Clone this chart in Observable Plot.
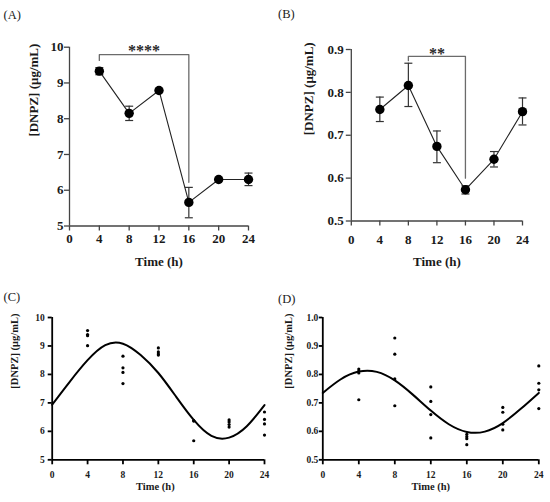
<!DOCTYPE html>
<html>
<head>
<meta charset="utf-8">
<script src="https://cdn.jsdelivr.net/npm/d3@7"></script>
<script src="https://cdn.jsdelivr.net/npm/@observablehq/plot@0.6"></script>
<style>
  html, body { margin: 0; padding: 0; background: #fff; }
  #wrap { position: relative; width: 550px; height: 502px; background: #fff; overflow: hidden; }
  #wrap svg { position: absolute; font-family: 'Liberation Serif', 'Times New Roman', serif; }
  .tag { position: absolute; font-family: 'Liberation Serif', 'Times New Roman', serif; font-size: 12.5px; line-height: 14px; color: #1a1a1a; }
</style>
</head>
<body>
<div id="wrap"></div>
<script>
// ---------- data ----------
const hours = [4, 8, 12, 16, 20, 24];
const xTicks = [0, 4, 8, 12, 16, 20, 24];

// Panel A (mean ± SEM)
const meanA = [9.33, 8.15, 8.79, 5.66, 6.30, 6.30];
const loA   = [9.23, 7.95, 8.77, 5.23, 6.29, 6.13];
const hiA   = [9.43, 8.35, 8.81, 6.08, 6.31, 6.48];
const ticksA = [5, 6, 7, 8, 9, 10];
const bracketA_t = [4, 4, 16, 16];
const bracketA_v = [9.63, 9.79, 9.79, 6.22];
const starsA = "****";

// Panel B (mean ± SEM)
const meanB = [0.760, 0.816, 0.674, 0.573, 0.644, 0.755];
const loB   = [0.732, 0.767, 0.636, 0.563, 0.626, 0.724];
const hiB   = [0.789, 0.868, 0.710, 0.582, 0.662, 0.787];
const ticksB = [0.5, 0.6, 0.7, 0.8, 0.9];
const bracketB_t = [8, 8, 16, 16];
const bracketB_v = [0.874, 0.884, 0.884, 0.600];
const starsB = "**";

// Panel C (individual values + cosinor fit)
const rawC_t = [4, 4, 4, 4, 8, 8, 8, 8, 12, 12, 12, 12, 16, 16, 16, 20, 20, 20, 20, 24, 24, 24, 24];
const rawC_v = [9.54, 9.40, 9.36, 9.01, 8.64, 8.23, 8.07, 7.68, 8.93, 8.79, 8.72, 8.68, 6.38, 6.36, 5.67, 6.40, 6.33, 6.24, 6.15, 6.68, 6.42, 6.26, 5.87];
const fitC_t = [0, 2, 4, 6, 8, 10, 12, 14, 16, 18, 20, 22, 24];
const fitC_v = [6.94, 7.75, 8.50, 9.03, 9.08, 8.68, 8.05, 7.22, 6.40, 5.84, 5.78, 6.18, 6.92];
const ticksC = [5, 6, 7, 8, 9, 10];

// Panel D (individual values + cosinor fit)
const rawD_t = [4, 4, 4, 4, 8, 8, 8, 8, 12, 12, 12, 12, 16, 16, 16, 16, 20, 20, 20, 20, 24, 24, 24, 24];
const rawD_v = [0.819, 0.812, 0.805, 0.711, 0.928, 0.871, 0.784, 0.690, 0.756, 0.705, 0.659, 0.577, 0.589, 0.581, 0.574, 0.553, 0.684, 0.667, 0.625, 0.605, 0.830, 0.769, 0.746, 0.680];
const fitD_t = [0, 2, 4, 6, 8, 10, 12, 14, 16, 18, 20, 22, 24];
const fitD_v = [0.735, 0.783, 0.810, 0.809, 0.779, 0.729, 0.673, 0.625, 0.598, 0.599, 0.629, 0.679, 0.735];
const ticksD = [0.5, 0.6, 0.7, 0.8, 0.9, 1.0];

const yLabel = "[DNPZ] (μg/mL)";
const xLabel = "Time (h)";

// ---------- helpers ----------
const zip2 = (t, v) => t.map((d, i) => ({t: d, v: v[i]}));
const summary = (m, lo, hi) => hours.map((t, i) => ({t, v: m[i], lo: lo[i], hi: hi[i]}));
const capSymbol = {draw(ctx, size) { const w = Math.sqrt(size / Math.PI); ctx.moveTo(-w, 0); ctx.lineTo(w, 0); }};
const FONT = "'Liberation Serif', 'Times New Roman', serif";

function panel(o) {
  const svg = Plot.plot({
    width: o.width, height: o.height,
    marginLeft: o.mL, marginRight: o.mR, marginTop: o.mT, marginBottom: o.mB,
    x: {domain: [0, 24]},
    y: {domain: o.yDomain},
    style: {fontFamily: FONT, fontWeight: "bold", color: "#1a1a1a", background: "transparent", overflow: "visible"},
    marks: [
      Plot.axisX(xTicks, {tickSize: o.tsX, tickPadding: o.tpX, label: null, fontSize: o.fs, fontWeight: "bold", fontFamily: FONT, fill: "#1a1a1a", stroke: o.axisColor, strokeWidth: o.axisW}),
      Plot.axisY(o.yTicks, {tickSize: o.tsY, tickPadding: o.tpY, label: null, fontSize: o.fs, fontWeight: "bold", fontFamily: FONT, fill: "#1a1a1a", tickFormat: o.yFmt, stroke: o.axisColor, strokeWidth: o.axisW}),
      Plot.ruleX([0], {stroke: o.axisColor, strokeWidth: o.axisW}),
      Plot.ruleY([o.yDomain[0]], {stroke: o.axisColor, strokeWidth: o.axisW}),
      Plot.text([xLabel], {text: d => d, frameAnchor: "bottom", dy: o.xlDy, dx: o.xlDx || 0, fontSize: o.xlFs, fontWeight: "bold", fontFamily: FONT, fill: "#1a1a1a"}),
      Plot.text([yLabel], {text: d => d, frameAnchor: "left", dx: o.ylDx, rotate: -90, fontSize: o.ylFs, fontWeight: "bold", fontFamily: FONT, fill: "#1a1a1a"}),
      ...o.marks
    ]
  });
  svg.style.left = o.left + "px";
  svg.style.top = o.top + "px";
  return svg;
}

function meanMarks(data, bracket, stars, starX, starDy) {
  return [
    Plot.line(bracket, {x: "t", y: "v", stroke: "#6b6b6b", strokeWidth: 1.3}),
    Plot.text([stars], {text: d => d, x: starX, frameAnchor: "top", dy: starDy, fontSize: 16, fontWeight: "bold", fontFamily: FONT, fill: "#2a2a2a"}),
    Plot.ruleX(data, {x: "t", y1: "lo", y2: "hi", stroke: "#333", strokeWidth: 1.2}),
    Plot.dot(data, {x: "t", y: "lo", symbol: capSymbol, r: 4, stroke: "#333", strokeWidth: 1.2, fill: "none"}),
    Plot.dot(data, {x: "t", y: "hi", symbol: capSymbol, r: 4, stroke: "#333", strokeWidth: 1.2, fill: "none"}),
    Plot.line(data, {x: "t", y: "v", stroke: "#222", strokeWidth: 1.1}),
    Plot.dot(data, {x: "t", y: "v", r: 4.7, fill: "#000", stroke: "none"})
  ];
}

function fitMarks(raw, fit) {
  return [
    Plot.line(fit, {x: "t", y: "v", curve: "natural", stroke: "#000", strokeWidth: 2}),
    Plot.dot(raw, {x: "t", y: "v", r: 1.6, fill: "#000", stroke: "none"})
  ];
}

const wrap = document.getElementById("wrap");
const fmt1 = d => d.toFixed(1);
const fmt0 = d => String(d);

wrap.appendChild(panel({
  left: 0, top: 0, width: 275, height: 280, mL: 69, mR: 27, mT: 46.7, mB: 54.5,
  yDomain: [5, 10], yTicks: ticksA, yFmt: fmt0, fs: 13,
  tsX: 5, tpX: 2.5, tsY: 5, tpY: 1, axisColor: "#444", axisW: 1.3,
  xlDy: 39.5, xlFs: 13, ylDx: -36, ylFs: 13,
  marks: meanMarks(summary(meanA, loA, hiA), zip2(bracketA_t, bracketA_v), starsA, 10, -2.3)
}));

wrap.appendChild(panel({
  left: 275, top: 0, width: 275, height: 280, mL: 75.8, mR: 28, mT: 49, mB: 59.5,
  yDomain: [0.5, 0.9], yTicks: ticksB, yFmt: fmt1, fs: 13,
  tsX: 5, tpX: 8.5, tsY: 5, tpY: 2.5, axisColor: "#444", axisW: 1.3,
  xlDy: 44.5, xlFs: 13, ylDx: -42.7, ylFs: 13,
  marks: meanMarks(summary(meanB, loB, hiB), zip2(bracketB_t, bracketB_v), starsB, 12, -1.6)
}));

wrap.appendChild(panel({
  left: 0, top: 280, width: 275, height: 222, mL: 51.7, mR: 11, mT: 37, mB: 42.7,
  yDomain: [5, 10], yTicks: ticksC, yFmt: fmt0, fs: 9.5,
  tsX: 5, tpX: 6, tsY: 4, tpY: 3.5, axisColor: "#000", axisW: 1.8,
  xlDy: 29.7, xlDx: -3, xlFs: 10.5, ylDx: -38, ylFs: 10.5,
  marks: fitMarks(zip2(rawC_t, rawC_v), zip2(fitC_t, fitC_v))
}));

wrap.appendChild(panel({
  left: 275, top: 280, width: 275, height: 222, mL: 47.3, mR: 11.7, mT: 37, mB: 42.7,
  yDomain: [0.5, 1.0], yTicks: ticksD, yFmt: fmt1, fs: 9.5,
  tsX: 5, tpX: 6, tsY: 3.5, tpY: 1, axisColor: "#000", axisW: 1.8,
  xlDy: 29.7, xlFs: 10.5, ylDx: -34, ylFs: 10.5,
  marks: fitMarks(zip2(rawD_t, rawD_v), zip2(fitD_t, fitD_v))
}));

const tags = [["(A)", 3.5, 8], ["(B)", 278, 7], ["(C)", 3.5, 290.3], ["(D)", 278, 292]];
for (const [s, x, y] of tags) {
  const d = document.createElement("div");
  d.className = "tag";
  d.textContent = s;
  d.style.left = x + "px";
  d.style.top = y + "px";
  wrap.appendChild(d);
}
</script>
</body>
</html>
